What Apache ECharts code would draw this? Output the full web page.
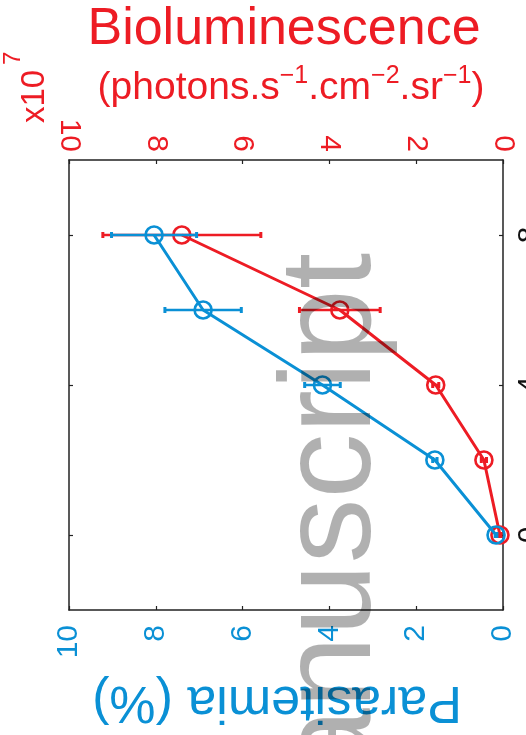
<!DOCTYPE html>
<html>
<head>
<meta charset="utf-8">
<script src="https://cdn.jsdelivr.net/npm/echarts@6/dist/echarts.min.js"></script>
<style>
  html, body { margin: 0; padding: 0; background: #ffffff; }
  #chart { width: 526px; height: 735px; }
</style>
</head>
<body>
<div id="chart"></div>
<script>
// Days post infection (plotted along the vertical axis)
const days = [0, 2, 4, 6, 8];
// Parasitemia (%), mean and error
const parasitemia = [0.16, 1.57, 4.16, 6.91, 8.04];
const parasitemiaErr = [0.02, 0.05, 0.41, 0.88, 0.98];
// Bioluminescence (x10^7 photons.s-1.cm-2.sr-1), mean and error
const biolum = [0.07, 0.44, 1.55, 3.76, 7.40];
const biolumErr = [0.02, 0.06, 0.07, 0.93, 1.82];
// Axis ticks
const valueTicks = [0, 2, 4, 6, 8, 10];
const dayTicks = [0, 4, 8];

const RED = '#ed1c24';
const BLUE = '#0a90d5';
const FONT = '"Liberation Sans", Arial, Helvetica, sans-serif';

const chart = echarts.init(document.getElementById('chart'), null, { renderer: 'canvas' });

function errorRenderer(color) {
  return function (params, api) {
    const day = api.value(0);
    const lo = api.coord([api.value(1), day]);
    const hi = api.coord([api.value(2), day]);
    const cap = 3;
    return {
      type: 'group',
      children: [
        { type: 'line', shape: { x1: lo[0], y1: lo[1], x2: hi[0], y2: hi[1] }, style: { stroke: color, lineWidth: 2.5 } },
        { type: 'line', shape: { x1: lo[0], y1: lo[1] - cap, x2: lo[0], y2: lo[1] + cap }, style: { stroke: color, lineWidth: 3 } },
        { type: 'line', shape: { x1: hi[0], y1: hi[1] - cap, x2: hi[0], y2: hi[1] + cap }, style: { stroke: color, lineWidth: 3 } }
      ]
    };
  };
}

const valueAxisBase = {
  type: 'value',
  min: 0,
  max: 10,
  interval: 2,
  inverse: true,
  splitLine: { show: false },
  axisLine: { show: true, onZero: false, lineStyle: { color: '#222', width: 1.5 } },
  axisTick: { show: true, inside: true, length: 4, lineStyle: { color: '#222', width: 1.2 } }
};

const dayAxisBase = {
  type: 'value',
  min: -2,
  max: 10,
  splitLine: { show: false },
  axisLine: { show: true, onZero: false, lineStyle: { color: '#222', width: 1.5 } },
  axisTick: { show: true, inside: true, length: 4, customValues: dayTicks, lineStyle: { color: '#222', width: 1.2 } }
};

const option = {
  backgroundColor: '#ffffff',
  animation: false,
  grid: { left: 69, right: 23, top: 160, bottom: 125, containLabel: false, outerBoundsMode: 'none' },
  xAxis: [
    Object.assign({}, valueAxisBase, {
      position: 'top',
      axisLabel: {
        color: RED, fontSize: 30, fontFamily: FONT, rotate: 90, margin: 8,
        showMinLabel: true, showMaxLabel: true,
        customValues: valueTicks
      }
    }),
    Object.assign({}, valueAxisBase, {
      position: 'bottom',
      axisLabel: {
        color: BLUE, fontSize: 30, fontFamily: FONT, rotate: 90, margin: 15,
        showMinLabel: true, showMaxLabel: true,
        customValues: valueTicks
      }
    })
  ],
  yAxis: [
    Object.assign({}, dayAxisBase, {
      position: 'left',
      axisLabel: { show: false }
    }),
    Object.assign({}, dayAxisBase, {
      position: 'right',
      axisLabel: {
        color: '#111', fontSize: 30, fontFamily: FONT, rotate: 90, margin: 12,
        customValues: dayTicks
      }
    })
  ],
  series: [
    {
      name: 'Bioluminescence error',
      type: 'custom',
      xAxisIndex: 0, yAxisIndex: 0,
      renderItem: errorRenderer(RED),
      encode: { x: [1, 2], y: 0 },
      data: days.map((d, i) => [d, biolum[i] - biolumErr[i], biolum[i] + biolumErr[i]]),
      z: 2
    },
    {
      name: 'Bioluminescence',
      type: 'line',
      xAxisIndex: 0, yAxisIndex: 0,
      data: days.map((d, i) => [biolum[i], d]),
      symbol: 'circle',
      symbolSize: 17,
      itemStyle: { color: 'rgba(0,0,0,0)', borderColor: RED, borderWidth: 2.6 },
      lineStyle: { color: RED, width: 3 },
      z: 3
    },
    {
      name: 'Parasitemia error',
      type: 'custom',
      xAxisIndex: 1, yAxisIndex: 0,
      renderItem: errorRenderer(BLUE),
      encode: { x: [1, 2], y: 0 },
      data: days.map((d, i) => [d, parasitemia[i] - parasitemiaErr[i], parasitemia[i] + parasitemiaErr[i]]),
      z: 4
    },
    {
      name: 'Parasitemia',
      type: 'line',
      xAxisIndex: 1, yAxisIndex: 0,
      data: days.map((d, i) => [parasitemia[i], d]),
      symbol: 'circle',
      symbolSize: 17,
      itemStyle: { color: 'rgba(0,0,0,0)', borderColor: BLUE, borderWidth: 2.6 },
      lineStyle: { color: BLUE, width: 3 },
      z: 5
    }
  ],
  graphic: [
    {
      type: 'text', x: 284, y: 30,
      style: { text: 'Bioluminescence', fontSize: 52, fontFamily: FONT, fill: RED, align: 'center', verticalAlign: 'middle' }
    },
    {
      type: 'text', x: 291, y: 86,
      style: {
        text: '{b|(photons.s}{s|\u22121}{b|.cm}{s|\u22122}{b|.sr}{s|\u22121}{b|)}',
        align: 'center', verticalAlign: 'middle', fontFamily: FONT, fill: RED,
        rich: {
          b: { fontSize: 39, fontFamily: FONT, fill: RED, lineHeight: 44, verticalAlign: 'bottom' },
          s: { fontSize: 25, fontFamily: FONT, fill: RED, lineHeight: 20, verticalAlign: 'top' }
        }
      }
    },
    {
      type: 'text', x: 35, y: 123, rotation: Math.PI / 2,
      style: { text: 'x10', fontSize: 33, fontFamily: FONT, fill: RED, align: 'left', verticalAlign: 'middle' }
    },
    {
      type: 'text', x: 13, y: 65, rotation: Math.PI / 2,
      style: { text: '7', fontSize: 24, fontFamily: FONT, fill: RED, align: 'left', verticalAlign: 'middle' }
    },
    {
      type: 'text', x: 277, y: 701, rotation: Math.PI,
      style: { text: 'Parasitemia (%)', fontSize: 52, fontFamily: FONT, fill: BLUE, align: 'center', verticalAlign: 'middle' }
    },
    {
      type: 'text', x: 334, y: 253, rotation: Math.PI / 2, z: 100,
      style: { text: 'Author Manuscript', fontSize: 130, fontFamily: FONT, fill: 'rgba(0,0,0,0.31)', align: 'right', verticalAlign: 'middle' }
    }
  ]
};

chart.setOption(option);
</script>
</body>
</html>
